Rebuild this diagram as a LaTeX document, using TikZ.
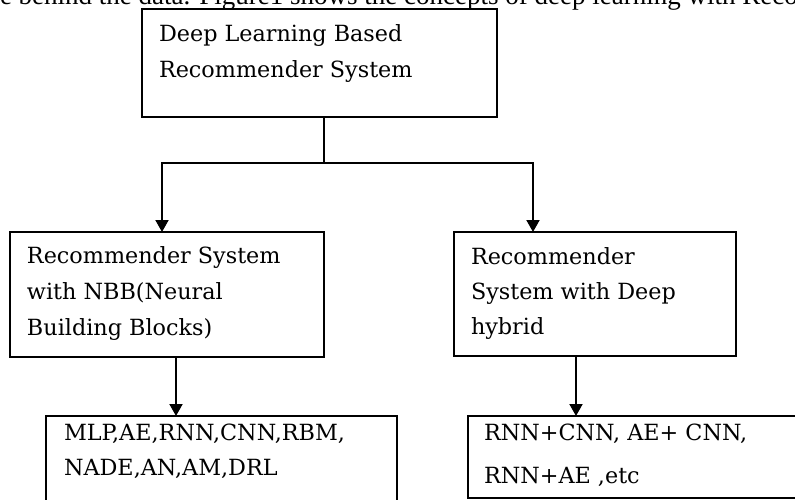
\documentclass[tikz,border=0pt]{standalone}
\usepackage{fontspec}
\setmainfont{DejaVu Serif}
\newfontfamily\bodyfont{Liberation Serif}
\usetikzlibrary{arrows.meta}
\newcommand{\boxtext}[2]{\parbox[t]{420pt}{\fontsize{22.3pt}{#1}\selectfont\raggedright #2}}
\begin{document}
\begin{tikzpicture}[x=1pt,y=-1pt,
  boxnode/.style={draw=black, line width=1.9pt, rectangle, inner sep=0pt, outer sep=0pt, anchor=north west},
  txt/.style={inner sep=0pt, outer sep=0pt, anchor=base west, text=black},
  arr/.style={line width=1.9pt, line join=miter, -{Triangle[width=13pt,length=12pt]}},
  conn/.style={line width=1.9pt}]
\useasboundingbox[fill=white] (0,0) rectangle (795,499);
\begin{scope}
\clip (0,0) rectangle (795,499);
\node[txt] (para) at (0,4.5) {\bodyfont\fontsize{27pt}{32pt}\selectfont e behind the data. Figure1 shows the concepts of deep learning with Recommender};
% boxes
\node[boxnode, minimum width=355pt, minimum height=108pt] (top) at (142,9) {};
\node[boxnode, minimum width=314pt, minimum height=125pt] (nbb) at (10,232) {};
\node[boxnode, minimum width=282pt, minimum height=124pt] (hyb) at (454,232) {};
\node[boxnode, minimum width=351pt, minimum height=120pt] (mlp) at (46,416) {};
\node[boxnode, minimum width=380pt, minimum height=82pt] (rnn) at (468,416) {};
% texts
\node[txt] (topt) at (159,41) {\boxtext{36pt}{Deep Learning Based\\Recommender System}};
\node[txt] (nbbt) at (27,263) {\boxtext{36pt}{Recommender System\\with NBB(Neural\\Building Blocks)}};
\node[txt] (hybt) at (471,264) {\boxtext{35pt}{Recommender\\System with Deep\\hybrid}};
\node[txt] (mlpt) at (64,440) {\boxtext{35pt}{MLP,AE,RNN,CNN,RBM,\\NADE,AN,AM,DRL}};
\node[txt] (rnnt) at (484,440) {\boxtext{43pt}{RNN+CNN, AE+ CNN,\\RNN+AE ,etc}};
% connectors
\coordinate (j) at (324,163);
\coordinate (jl) at (162,163);
\coordinate (jr) at (533,163);
\coordinate (al) at (176,400);
\coordinate (ar) at (576,400);
\draw[conn] (top.south -| j) -- (j);
\draw[arr] (j) -| (jl |- nbb.north);
\draw[arr] (j) -| (jr |- hyb.north);
\draw[arr] (nbb.south -| al) -- (al |- mlp.north);
\draw[arr] (hyb.south -| ar) -- (ar |- rnn.north);
\end{scope}
\end{tikzpicture}
\end{document}
